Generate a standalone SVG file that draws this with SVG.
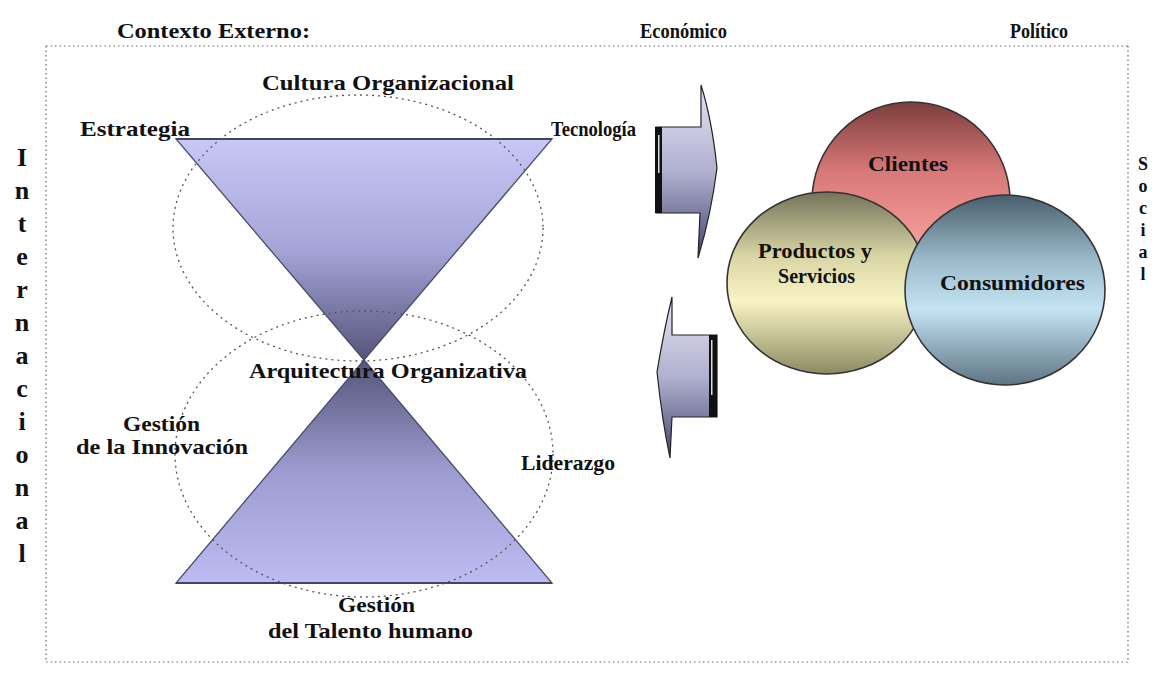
<svg xmlns="http://www.w3.org/2000/svg" width="1156" height="673" viewBox="0 0 1156 673">
<defs>
<style>
.t{font-family:"Liberation Serif","Times New Roman",serif;font-weight:bold;font-size:21px;fill:#111;}
.v{font-family:"Liberation Serif","Times New Roman",serif;font-weight:bold;font-size:26px;fill:#111;text-anchor:middle;}
.vs{font-family:"Liberation Serif","Times New Roman",serif;font-weight:bold;font-size:18px;fill:#111;text-anchor:middle;}
.frame{fill:none;stroke:#666;stroke-width:1.2;stroke-dasharray:1.5 3;}
.ell{fill:none;stroke:#555;stroke-width:1.3;stroke-dasharray:2 4;}
.circ{stroke:#333;stroke-width:1.6;}
</style>
<linearGradient id="gTop" x1="0" y1="0" x2="0" y2="1">
<stop offset="0" stop-color="#c8c8f6"/><stop offset="0.5" stop-color="#a4a4d8"/><stop offset="1" stop-color="#55557a"/>
</linearGradient>
<linearGradient id="gBot" x1="0" y1="0" x2="0" y2="1">
<stop offset="0" stop-color="#55557a"/><stop offset="0.5" stop-color="#9c9cd0"/><stop offset="1" stop-color="#bcbcf2"/>
</linearGradient>
<linearGradient id="gArr" x1="0" y1="0" x2="0" y2="1">
<stop offset="0" stop-color="#e4e4f2"/><stop offset="0.5" stop-color="#b0b0d0"/><stop offset="1" stop-color="#45456e"/>
</linearGradient>
<linearGradient id="gRed" x1="0" y1="0" x2="0" y2="1">
<stop offset="0" stop-color="#7c3e3c"/><stop offset="0.35" stop-color="#d87878"/><stop offset="0.7" stop-color="#f59a9a"/><stop offset="1" stop-color="#e08a8a"/>
</linearGradient>
<linearGradient id="gYel" x1="0" y1="0" x2="0" y2="1">
<stop offset="0" stop-color="#75735a"/><stop offset="0.35" stop-color="#d8d4a4"/><stop offset="0.6" stop-color="#f8f4c4"/><stop offset="1" stop-color="#8c8a62"/>
</linearGradient>
<linearGradient id="gBlu" x1="0" y1="0" x2="0" y2="1">
<stop offset="0" stop-color="#4a5e6c"/><stop offset="0.35" stop-color="#9cbccc"/><stop offset="0.6" stop-color="#c4e4f4"/><stop offset="1" stop-color="#5e7484"/>
</linearGradient>
</defs>
<rect width="1156" height="673" fill="#fff"/>

<g id="frame">
<path class="frame" d="M46,46 H1128 M46,46 V662 M1128,46 V662 M46,662 H1128"/>
</g>

<g id="context-labels">
<text class="t" x="117" y="38" textLength="193" lengthAdjust="spacingAndGlyphs">Contexto Externo:</text>
<text class="t" x="640" y="38" textLength="87" lengthAdjust="spacingAndGlyphs">Económico</text>
<text class="t" x="1010" y="38" textLength="58" lengthAdjust="spacingAndGlyphs">Político</text>
</g>

<g id="internacional">
<text class="v" x="22" y="166">I</text>
<text class="v" x="22" y="199">n</text>
<text class="v" x="22" y="232">t</text>
<text class="v" x="22" y="265">e</text>
<text class="v" x="22" y="298">r</text>
<text class="v" x="22" y="331">n</text>
<text class="v" x="22" y="364">a</text>
<text class="v" x="22" y="397">c</text>
<text class="v" x="22" y="430">i</text>
<text class="v" x="22" y="463">o</text>
<text class="v" x="22" y="496">n</text>
<text class="v" x="22" y="529">a</text>
<text class="v" x="22" y="562">l</text>
</g>

<g id="social">
<text class="vs" x="1143" y="170">S</text>
<text class="vs" x="1143" y="192">o</text>
<text class="vs" x="1143" y="214">c</text>
<text class="vs" x="1143" y="236">i</text>
<text class="vs" x="1143" y="258">a</text>
<text class="vs" x="1143" y="280">l</text>
</g>

<g id="hourglass">
<polygon points="176,139 552,139 364,360" fill="url(#gTop)" stroke="#4a4a68" stroke-width="1.3"/>
<polygon points="364,360 552,583 176,583" fill="url(#gBot)" stroke="#4a4a68" stroke-width="1.3"/>
<line x1="176" y1="139" x2="552" y2="139" stroke="#44445a" stroke-width="2"/>
<line x1="176" y1="583" x2="552" y2="583" stroke="#44445a" stroke-width="2"/>
</g>

<g id="cultura-ellipse">
<ellipse class="ell" cx="358" cy="228" rx="185" ry="133"/>
</g>
<g id="talento-ellipse">
<ellipse class="ell" cx="364" cy="454" rx="189" ry="143"/>
</g>

<g id="hourglass-labels">
<text class="t" x="262" y="90" textLength="252" lengthAdjust="spacingAndGlyphs">Cultura Organizacional</text>
<text class="t" x="80" y="136" textLength="110" lengthAdjust="spacingAndGlyphs">Estrategia</text>
<text class="t" x="551" y="136" textLength="85" lengthAdjust="spacingAndGlyphs">Tecnología</text>
<text class="t" x="249" y="378" textLength="278" lengthAdjust="spacingAndGlyphs">Arquitectura Organizativa</text>
<text class="t" x="123" y="431" textLength="77" lengthAdjust="spacingAndGlyphs">Gestión</text>
<text class="t" x="76" y="454" textLength="172" lengthAdjust="spacingAndGlyphs">de la Innovación</text>
<text class="t" x="521" y="470" textLength="94" lengthAdjust="spacingAndGlyphs">Liderazgo</text>
<text class="t" x="338" y="612" textLength="77" lengthAdjust="spacingAndGlyphs">Gestión</text>
<text class="t" x="268" y="638" textLength="205" lengthAdjust="spacingAndGlyphs">del Talento humano</text>
</g>

<g id="connectors">
<g id="arrow-right">
<path d="M656,127 H701 V85 Q712,120 717,168 Q711,215 698,258 L700,213 H656 Z" fill="url(#gArr)" stroke="#222" stroke-width="1.2"/>
<rect x="655" y="127" width="7" height="86" fill="#111"/>
<rect x="658" y="135" width="1.5" height="38" fill="#ddd"/>
</g>
<g id="arrow-left">
<path d="M717,335 H672 V297 Q664,330 657,372 Q662,420 670,458 L672,417 H717 Z" fill="url(#gArr)" stroke="#222" stroke-width="1.2"/>
<rect x="709" y="335" width="8" height="82" fill="#111"/>
<rect x="711" y="340" width="1.5" height="55" fill="#ddd"/>
</g>
</g>

<g id="clientes">
<ellipse class="circ" cx="911" cy="201" rx="99" ry="99" fill="url(#gRed)"/>
<text class="t" x="868" y="171" textLength="80" lengthAdjust="spacingAndGlyphs">Clientes</text>
</g>
<g id="productos">
<ellipse class="circ" cx="827" cy="283" rx="100" ry="91" fill="url(#gYel)"/>
<text class="t" x="758" y="258" textLength="114" lengthAdjust="spacingAndGlyphs">Productos y</text>
<text class="t" x="778" y="283" textLength="77" lengthAdjust="spacingAndGlyphs">Servicios</text>
</g>
<g id="consumidores">
<ellipse class="circ" cx="1005" cy="290" rx="100" ry="95" fill="url(#gBlu)"/>
<text class="t" x="940" y="290" textLength="145" lengthAdjust="spacingAndGlyphs">Consumidores</text>
</g>
</svg>
